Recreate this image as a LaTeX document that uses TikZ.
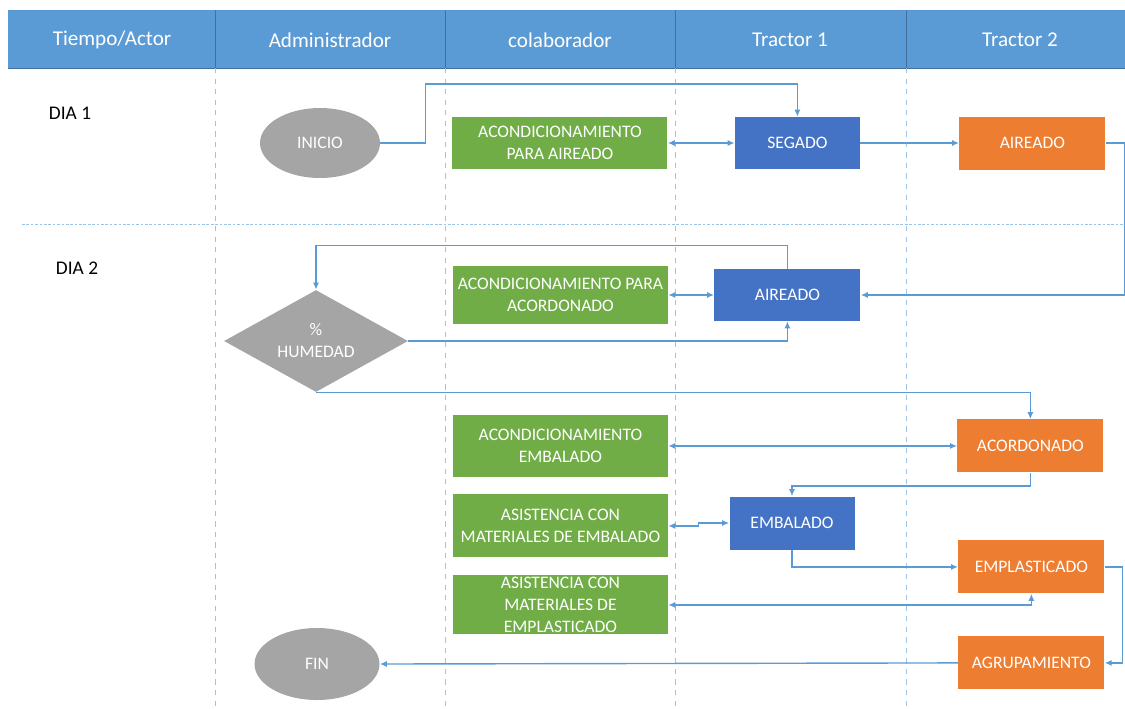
\documentclass[tikz,border=0pt]{standalone}
\usepackage{fontspec}
\setmainfont{Carlito}
\usepackage{tikz}
\usetikzlibrary{positioning, shapes.geometric, arrows.meta}
\definecolor{headblue}{HTML}{5B9BD5}
\definecolor{headline}{HTML}{41719C}
\definecolor{laneblue}{HTML}{9DC3E6}
\definecolor{linkblue}{HTML}{5B9BD5}
\definecolor{colgreen}{HTML}{70AD47}
\definecolor{colblue}{HTML}{4472C4}
\definecolor{colorange}{HTML}{ED7D31}
\definecolor{colgray}{HTML}{A5A5A5}

\begin{document}
\begin{tikzpicture}[x=0.02cm,y=-0.02cm,on grid,>={Latex[length=4pt,width=3.5pt]},
    box/.style={rectangle,text=white,align=center,inner sep=0pt,
      font=\fontsize{10}{12.5}\selectfont},
    green box/.style={box,fill=colgreen,minimum width=4.3cm,minimum height=1.1cm},
    blue box/.style={box,fill=colblue,minimum width=2.5cm,minimum height=1.04cm},
    orange box/.style={box,fill=colorange,minimum width=2.92cm,minimum height=1.06cm},
    terminal/.style={ellipse,fill=colgray,text=white,inner sep=0pt,
      minimum width=2.4cm,minimum height=1.4cm,font=\fontsize{10}{12}\selectfont},
    head/.style={text=white,font=\fontsize{12}{14}\selectfont},
    day/.style={font=\fontsize{11}{13}\selectfont},
    lane/.style={draw=laneblue,dashed,line width=0.5pt},
    link/.style={draw=linkblue,line width=0.8pt,->}]
  \useasboundingbox (0,0) rectangle (1125,708);

  % cabecera
  \fill[headblue] (8,10) rectangle (1125,68);
  \draw[headline,line width=0.4pt] (8,68) -- (1125,68);
  \foreach \x in {215,445,675,906} {
    \draw[headline,line width=0.4pt] (\x,10) -- (\x,68);
    \draw[lane] (\x,68) -- (\x,708);
  }
  \draw[lane,dash pattern=on 1.5pt off 1pt] (22,224) -- (1125,224);

  \node[head] (h_tiempo) at (112,40) {Tiempo/Actor};
  \node[head] (h_admin) at (330,40) {Administrador};
  \node[head] (h_colab) at (560,40) {colaborador};
  \node[head] (h_trac1) at (790,40) {Tractor 1};
  \node[head] (h_trac2) at (1020,40) {Tractor 2};

  \node[day] (dia_1) at (70,113) {DIA 1};
  \node[day] (dia_2) at (77,268) {DIA 2};

  % dia 1
  \node[terminal] (inicio) at (320,143) {INICIO};
  \node[green box,minimum height=1.04cm] (acon_1) [right=4.8cm of inicio] {ACONDICIONAMIENTO\\PARA AIREADO};
  \node[blue box] (segado) [right=4.75cm of acon_1] {SEGADO};
  \node[orange box] (aire_n) [right=4.7cm of segado] {AIREADO};

  % dia 2
  \node[blue box,minimum width=2.92cm] (aire_a) [below left=3.04cm and 0.2cm of segado] {AIREADO};
  \node[green box,minimum height=1.16cm] (acon_2) [left=4.54cm of aire_a] {ACONDICIONAMIENTO PARA\\ACORDONADO};
  \node[diamond,fill=colgray,text=white,inner sep=0pt,aspect=1.8,align=center,
    minimum width=3.68cm,minimum height=2.04cm,font=\fontsize{10}{12.5}\selectfont]
    (humedad) at (316,341) {\%\\HUMEDAD};
  \node[orange box] (acordonado) [below left=6.06cm and 0.04cm of aire_n] {ACORDONADO};
  \node[green box,minimum height=1.24cm] (acon_3) [left=9.4cm of acordonado] {ACONDICIONAMIENTO\\EMBALADO};
  \node[green box,minimum height=1.26cm] (acon_4) [below=1.6cm of acon_3] {ASISTENCIA CON\\MATERIALES DE EMBALADO};
  \node[blue box,minimum height=1.06cm] (embalado) at (792,523) {EMBALADO};
  \node[orange box] (emplast) [below right=2.42cm and 0.02cm of acordonado] {EMPLASTICADO};
  \node[green box,minimum height=1.18cm] (acon_5) [below=1.58cm of acon_4] {ASISTENCIA CON\\MATERIALES DE\\EMPLASTICADO};
  \node[orange box] (agrupa) [below=1.92cm of emplast] {AGRUPAMIENTO};
  \node[terminal,minimum width=2.5cm,minimum height=1.44cm] (fin) at (317,664) {FIN};

  % conexiones
  \draw[link] (inicio.east) -- ++(45,0) -- ++(0,-59) -| (segado.north);
  \draw[link,<->] (acon_1.east) -- (segado.west);
  \draw[link] (segado.east) -- (aire_n.west);
  \draw[link] (aire_n.east) -- ++(19,0) |- (aire_a.east);
  \draw[link,<->] (acon_2.east) -- ++(25,0) |- (aire_a.west);
  \draw[link] (aire_a.north) -- ++(0,-23) -| (humedad.north);
  \draw[link] (humedad.east) -| (aire_a.south);
  \draw[link] (humedad.south) -| (acordonado.north);
  \draw[link,<->] (acon_3.east) -- ++(145,0) |- (acordonado.west);
  \draw[link] (acordonado.south) -- ++(0,13) -| (embalado.north);
  \draw[link,<->] (acon_4.east) -- ++(30,0) |- (embalado.west);
  \draw[link] (embalado.south) |- (emplast.west);
  \draw[link,<->] (acon_5.east) -| (emplast.south);
  \draw[link] (emplast.east) -- ++(18,0) |- (agrupa.east);
  \draw[link] (agrupa.west) -- (fin.east);
\end{tikzpicture}
\end{document}
